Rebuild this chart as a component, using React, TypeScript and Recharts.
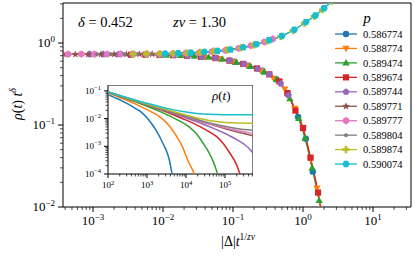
import React from 'react'
import { LineChart, Line, XAxis, YAxis, ReferenceArea } from 'recharts'

const FONT = '"Liberation Serif", "DejaVu Serif", serif'

const pLabels = ['0.586774', '0.588774', '0.589474', '0.589674', '0.589744', '0.589771', '0.589777', '0.589804', '0.589874', '0.590074']
const palette = ['#1f77b4', '#ff7f0e', '#2ca02c', '#d62728', '#9467bd', '#8c564b', '#e377c2', '#7f7f7f', '#bcbd22', '#17becf']
const shapes = ['o', 'v', '^', 's', 'p', '*', 'h', '.', 'P', 'H']

// collapse: |Δ| t^(1/zν)  vs  ρ(t) t^δ
const blueX = [0.105, 0.166, 0.263, 0.417, 0.603, 0.851, 1.096, 1.38]
const blueY = [0.59, 0.53, 0.46, 0.36, 0.24, 0.125, 0.068, 0.027]
const orangeX = [0.04, 0.063, 0.1, 0.158, 0.251, 0.38, 0.55, 0.76, 1.0, 1.29, 1.58, 1.9]
const orangeY = [0.67, 0.645, 0.59, 0.535, 0.465, 0.37, 0.275, 0.16, 0.092, 0.038, 0.017, 0.008]
const greenX = [0.0112, 0.0178, 0.028, 0.045, 0.071, 0.112, 0.178, 0.28, 0.42, 0.65, 0.87, 1.07, 1.35, 1.7]
const greenY = [0.71, 0.705, 0.69, 0.67, 0.635, 0.58, 0.52, 0.44, 0.36, 0.21, 0.12, 0.069, 0.03, 0.012]
const redX = [0.0035, 0.0056, 0.0089, 0.014, 0.022, 0.035, 0.056, 0.089, 0.14, 0.22, 0.33, 0.46, 0.6, 0.78, 1.0, 1.28, 1.64, 2.0]
const redY = [0.72, 0.72, 0.715, 0.71, 0.7, 0.68, 0.655, 0.61, 0.555, 0.49, 0.415, 0.34, 0.245, 0.15, 0.092, 0.04, 0.015, 0.005]
const purpleX = [0.0009, 0.0014, 0.0023, 0.0036, 0.0057, 0.009, 0.0143, 0.0226, 0.036, 0.057, 0.09, 0.143, 0.226, 0.33, 0.48, 0.62]
const purpleY = [0.73, 0.73, 0.727, 0.725, 0.722, 0.717, 0.71, 0.7, 0.68, 0.655, 0.61, 0.555, 0.485, 0.415, 0.32, 0.23]
const brownX = [0.00038, 0.00056, 0.00085, 0.0013, 0.002, 0.003, 0.0046, 0.007, 0.0107, 0.0165, 0.025, 0.039, 0.06, 0.092, 0.14]
const brownY = [0.728, 0.726, 0.728, 0.727, 0.73, 0.729, 0.731, 0.733, 0.737, 0.745, 0.755, 0.77, 0.8, 0.83, 0.885]
const pinkX = [0.00044, 0.00068, 0.00105, 0.0016, 0.0025, 0.0038, 0.0059, 0.009, 0.014, 0.021, 0.033, 0.05, 0.078, 0.12, 0.18, 0.28, 0.37]
const pinkY = [0.73, 0.732, 0.73, 0.731, 0.733, 0.733, 0.735, 0.738, 0.744, 0.752, 0.765, 0.785, 0.815, 0.86, 0.93, 1.03, 1.12]
const grayX = [0.00114, 0.0018, 0.0028, 0.0044, 0.0068, 0.0105, 0.016, 0.025, 0.039, 0.06, 0.093, 0.145, 0.22, 0.34, 0.5, 0.74]
const grayY = [0.73, 0.731, 0.733, 0.734, 0.737, 0.74, 0.748, 0.757, 0.775, 0.8, 0.83, 0.885, 0.965, 1.085, 1.22, 1.45]
const yellowX = [0.0037, 0.0058, 0.009, 0.014, 0.022, 0.034, 0.053, 0.083, 0.13, 0.2, 0.31, 0.48, 0.72, 1.05, 1.45, 1.9, 2.6]
const yellowY = [0.733, 0.737, 0.74, 0.745, 0.755, 0.77, 0.795, 0.825, 0.875, 0.95, 1.06, 1.2, 1.42, 1.75, 2.12, 2.55, 3.25]
const cyanX = [0.0107, 0.0165, 0.025, 0.039, 0.06, 0.092, 0.14, 0.215, 0.33, 0.5, 0.75, 1.1, 1.5, 2.0, 2.7]
const cyanY = [0.74, 0.75, 0.76, 0.78, 0.8, 0.83, 0.885, 0.965, 1.08, 1.22, 1.45, 1.8, 2.17, 2.65, 3.35]

// inset: ρ(t) vs t
const blueT = [100, 150, 220, 330, 500, 750, 1100, 1700, 2500, 3700, 4600]
const blueRho = [0.0736, 0.0571, 0.0446, 0.0334, 0.0235, 0.0161, 0.00907, 0.00382, 0.00137, 0.00034, 0.00007]
const orangeT = [100, 220, 500, 1100, 2500, 3700, 5500, 8000, 12000, 16000, 19000]
const orangeRho = [0.0842, 0.0551, 0.0338, 0.0198, 0.00975, 0.0055, 0.00251, 0.000998, 0.000244, 0.000107, 0.00004]
const greenT = [100, 330, 1100, 2500, 5500, 12000, 18000, 27000, 40000, 50000, 60000, 72000]
const greenRho = [0.0885, 0.0502, 0.0268, 0.0164, 0.00959, 0.00502, 0.00293, 0.00134, 0.00055, 0.00028, 0.000138, 0.00006]
const redT = [100, 500, 2500, 8000, 18000, 40000, 60000, 90000, 135000, 200000, 240000, 300000]
const redRho = [0.0898, 0.0428, 0.0196, 0.0101, 0.00609, 0.00333, 0.00228, 0.00127, 0.00055, 0.000209, 0.000104, 0.00005]
const purpleT = [100, 1100, 8000, 27000, 60000, 135000, 200000, 300000, 450000, 522000]
const purpleRho = [0.091, 0.0304, 0.01187, 0.00636, 0.00398, 0.00235, 0.00173, 0.00122, 0.00074, 0.00056]
const lateT = [100, 1100, 8000, 27000, 60000, 135000, 300000, 522000]
const brownRho = [0.091, 0.0308, 0.01268, 0.00748, 0.00534, 0.00384, 0.00288, 0.0024]
const pinkRho = [0.091, 0.0309, 0.0129, 0.0077, 0.00564, 0.0042, 0.00332, 0.00292]
const grayRho = [0.091, 0.0311, 0.01324, 0.0081, 0.00612, 0.00485, 0.00405, 0.00381]
const yellowRho = [0.0914, 0.032, 0.0146, 0.0095, 0.0078, 0.0071, 0.0069, 0.0068]
const cyanT = [100, 330, 1100, 3700, 12000, 27000, 60000, 135000, 522000]
const cyanRho = [0.0923, 0.0554, 0.0342, 0.0224, 0.0165, 0.0145, 0.0139, 0.0138, 0.0138]

const zip = (a: number[], b: number[]) => a.map((v, i) => ({ x: v, y: b[i] }))

const mainData = [
  zip(blueX, blueY), zip(orangeX, orangeY), zip(greenX, greenY), zip(redX, redY), zip(purpleX, purpleY),
  zip(brownX, brownY), zip(pinkX, pinkY), zip(grayX, grayY), zip(yellowX, yellowY), zip(cyanX, cyanY),
]
const insetData = [
  zip(blueT, blueRho), zip(orangeT, orangeRho), zip(greenT, greenRho), zip(redT, redRho), zip(purpleT, purpleRho),
  zip(lateT, brownRho), zip(lateT, pinkRho), zip(lateT, grayRho), zip(lateT, yellowRho), zip(cyanT, cyanRho),
]

const X_DOMAIN = [3.726e-4, 34.9]
const Y_DOMAIN = [0.01, 3.076]
const T_DOMAIN = [100, 5.22e5]
const R_DOMAIN = [1e-4, 0.163]

function logTicks(lo: number, hi: number) {
  const out: number[] = []
  for (let e = Math.floor(Math.log10(lo)); e <= Math.ceil(Math.log10(hi)); e++) {
    for (let m = 1; m <= 9; m++) {
      const v = m * Math.pow(10, e)
      if (v >= lo * 0.9999 && v <= hi * 1.0001) out.push(v)
    }
  }
  return out
}

function regular(cx: number, cy: number, r: number, n: number, rot: number) {
  const pts: string[] = []
  for (let i = 0; i < n; i++) {
    const a = rot + (i * 2 * Math.PI) / n
    pts.push(`${cx + r * Math.sin(a)},${cy - r * Math.cos(a)}`)
  }
  return pts.join(' ')
}

function star(cx: number, cy: number, r: number, ri: number) {
  const pts: string[] = []
  for (let i = 0; i < 10; i++) {
    const a = (i * Math.PI) / 5
    const rr = i % 2 === 0 ? r : ri
    pts.push(`${cx + rr * Math.sin(a)},${cy - rr * Math.cos(a)}`)
  }
  return pts.join(' ')
}

function Marker({ shape, cx, cy, color }: { shape: string; cx: number; cy: number; color: string }) {
  if (cx == null || cy == null || isNaN(cx) || isNaN(cy)) return null
  switch (shape) {
    case 'o':
      return <circle cx={cx} cy={cy} r={3.2} fill={color} />
    case 'v':
      return <polygon points={`${cx - 3.7},${cy - 2.6} ${cx + 3.7},${cy - 2.6} ${cx},${cy + 3.8}`} fill={color} />
    case '^':
      return <polygon points={`${cx - 3.7},${cy + 2.6} ${cx + 3.7},${cy + 2.6} ${cx},${cy - 3.8}`} fill={color} />
    case 's':
      return <rect x={cx - 3.1} y={cy - 3.1} width={6.2} height={6.2} fill={color} />
    case 'p':
      return <polygon points={regular(cx, cy, 3.6, 5, 0)} fill={color} />
    case '*':
      return <polygon points={star(cx, cy, 4, 1.7)} fill={color} />
    case 'h':
      return <polygon points={regular(cx, cy, 3.7, 6, 0)} fill={color} />
    case '.':
      return <circle cx={cx} cy={cy} r={2} fill={color} />
    case 'P':
      return (
        <polygon
          points={`${cx - 1.3},${cy - 3.6} ${cx + 1.3},${cy - 3.6} ${cx + 1.3},${cy - 1.3} ${cx + 3.6},${cy - 1.3} ${cx + 3.6},${cy + 1.3} ${cx + 1.3},${cy + 1.3} ${cx + 1.3},${cy + 3.6} ${cx - 1.3},${cy + 3.6} ${cx - 1.3},${cy + 1.3} ${cx - 3.6},${cy + 1.3} ${cx - 3.6},${cy - 1.3} ${cx - 1.3},${cy - 1.3}`}
          fill={color}
        />
      )
    case 'H':
      return <polygon points={regular(cx, cy, 3.7, 6, Math.PI / 6)} fill={color} />
    default:
      return null
  }
}

type TickOpts = { side: 'left' | 'bottom'; major: number; minor: number; font: number; sup: number; gap: number }

function makeTick(o: TickOpts) {
  return (props: any) => {
    const { x, y, payload } = props
    const v = payload.value
    const lg = Math.log10(v)
    const e = Math.round(lg)
    const isMajor = Math.abs(lg - e) < 1e-6
    const len = isMajor ? o.major : o.minor
    const exp = e < 0 ? '\u2212' + Math.abs(e) : String(e)
    if (o.side === 'left') {
      return (
        <g>
          <line x1={x - len} x2={x} y1={y} y2={y} stroke="#000" strokeWidth={isMajor ? 1 : 0.7} />
          {isMajor && (
            <text x={x - len - o.gap} y={y + o.font * 0.33} textAnchor="end" fontFamily={FONT} fontSize={o.font} fill="#000">
              10<tspan fontSize={o.sup} dy={-o.font * 0.42}>{exp}</tspan>
            </text>
          )}
        </g>
      )
    }
    return (
      <g>
        <line x1={x} x2={x} y1={y} y2={y + len} stroke="#000" strokeWidth={isMajor ? 1 : 0.7} />
        {isMajor && (
          <text x={x} y={y + len + o.gap + o.font * 0.72} textAnchor="middle" fontFamily={FONT} fontSize={o.font} fill="#000">
            10<tspan fontSize={o.sup} dy={-o.font * 0.42}>{exp}</tspan>
          </text>
        )}
      </g>
    )
  }
}

const mainXTick = makeTick({ side: 'bottom', major: 5, minor: 3, font: 13, sup: 9, gap: 4 })
const mainYTick = makeTick({ side: 'left', major: 5, minor: 3, font: 13, sup: 9, gap: 3 })
const insetXTick = makeTick({ side: 'bottom', major: 4, minor: 2.5, font: 9, sup: 6.5, gap: 4 })
const insetYTick = makeTick({ side: 'left', major: 4, minor: 2.5, font: 9, sup: 6.5, gap: 3 })

export default function App() {
  return (
    <div style={{ position: 'relative', width: 415, height: 257, background: '#fff', fontFamily: FONT }}>
      <style>{'body{margin:0}'}</style>
      <div style={{ position: 'absolute', left: 0, top: 0 }}>
        <LineChart width={415} height={257} margin={{ top: 3, right: 4, left: 0, bottom: 0 }}>
          <XAxis
            dataKey="x"
            type="number"
            scale="log"
            domain={X_DOMAIN}
            allowDataOverflow
            ticks={logTicks(X_DOMAIN[0], X_DOMAIN[1])}
            interval={0}
            height={50}
            tickSize={0}
            tickMargin={0}
            tickLine={false}
            axisLine={false}
            tick={mainXTick}
          />
          <YAxis
            dataKey="y"
            type="number"
            scale="log"
            domain={Y_DOMAIN}
            allowDataOverflow
            ticks={logTicks(Y_DOMAIN[0], Y_DOMAIN[1])}
            interval={0}
            width={63}
            tickSize={0}
            tickMargin={0}
            tickLine={false}
            axisLine={false}
            tick={mainYTick}
          />
          {mainData.map((d, i) => (
            <Line
              key={pLabels[i]}
              data={d}
              dataKey="y"
              type="monotone"
              stroke={palette[i]}
              strokeWidth={1.3}
              isAnimationActive={false}
              dot={(p: any) => <Marker key={`${i}-${p.index}`} shape={shapes[i]} cx={p.cx} cy={p.cy} color={palette[i]} />}
              activeDot={false}
            />
          ))}
          <ReferenceArea x1={X_DOMAIN[0]} x2={X_DOMAIN[1]} y1={Y_DOMAIN[0]} y2={Y_DOMAIN[1]} fill="none" fillOpacity={0} stroke="#000" strokeWidth={1} />
        </LineChart>
      </div>

      <div style={{ position: 'absolute', left: 70, top: 85 }}>
        <LineChart width={183} height={120} margin={{ top: 0, right: 0, left: 0, bottom: 0 }}>
          <XAxis
            dataKey="x"
            type="number"
            scale="log"
            domain={T_DOMAIN}
            allowDataOverflow
            ticks={logTicks(T_DOMAIN[0], T_DOMAIN[1])}
            interval={0}
            height={31}
            tickSize={0}
            tickMargin={0}
            tickLine={false}
            axisLine={false}
            tick={insetXTick}
          />
          <YAxis
            dataKey="y"
            type="number"
            scale="log"
            domain={R_DOMAIN}
            allowDataOverflow
            ticks={logTicks(R_DOMAIN[0], R_DOMAIN[1])}
            interval={0}
            width={38}
            tickSize={0}
            tickMargin={0}
            tickLine={false}
            axisLine={false}
            tick={insetYTick}
          />
          {insetData.map((d, i) => (
            <Line
              key={pLabels[i]}
              data={d}
              dataKey="y"
              type="monotone"
              stroke={palette[i]}
              strokeWidth={1.5}
              isAnimationActive={false}
              dot={false}
              activeDot={false}
            />
          ))}
          <ReferenceArea x1={T_DOMAIN[0]} x2={T_DOMAIN[1]} y1={R_DOMAIN[0]} y2={R_DOMAIN[1]} fill="none" fillOpacity={0} stroke="#000" strokeWidth={1} />
        </LineChart>
      </div>

      <svg width={415} height={257} style={{ position: 'absolute', left: 0, top: 0, pointerEvents: 'none' }} fontFamily={FONT}>
        <text x={78} y={27} fontSize={14.5} fill="#000">
          <tspan fontStyle="italic">δ</tspan> = 0.452
        </text>
        <text x={173} y={27} fontSize={14.5} fill="#000">
          <tspan fontStyle="italic">zν</tspan> = 1.30
        </text>
        <text transform="translate(22,104) rotate(-90)" textAnchor="middle" fontSize={14} fill="#000">
          <tspan fontStyle="italic">ρ</tspan>(<tspan fontStyle="italic">t</tspan>) <tspan fontStyle="italic">t</tspan>
          <tspan fontStyle="italic" fontSize={10} dy={-6}>δ</tspan>
        </text>
        <text x={238} y={246} textAnchor="middle" fontSize={14} fill="#000">
          |Δ|<tspan fontStyle="italic">t</tspan>
          <tspan fontSize={9.5} dy={-6}>1/</tspan>
          <tspan fontSize={9.5} fontStyle="italic">zν</tspan>
        </text>
        <text x={212} y={100} fontSize={13} fill="#000">
          <tspan fontStyle="italic">ρ</tspan>(<tspan fontStyle="italic">t</tspan>)
        </text>
        <text x={367} y={23} textAnchor="middle" fontSize={15} fontStyle="italic" fill="#000">p</text>
        {pLabels.map((lab, i) => {
          const y = 34 + i * 14.45
          return (
            <g key={lab}>
              <line x1={335} x2={357} y1={y} y2={y} stroke={palette[i]} strokeWidth={1.3} />
              <Marker shape={shapes[i]} cx={346} cy={y} color={palette[i]} />
              <text x={363} y={y + 3.6} fontSize={10.5} fill="#000">{lab}</text>
            </g>
          )
        })}
      </svg>
    </div>
  )
}
